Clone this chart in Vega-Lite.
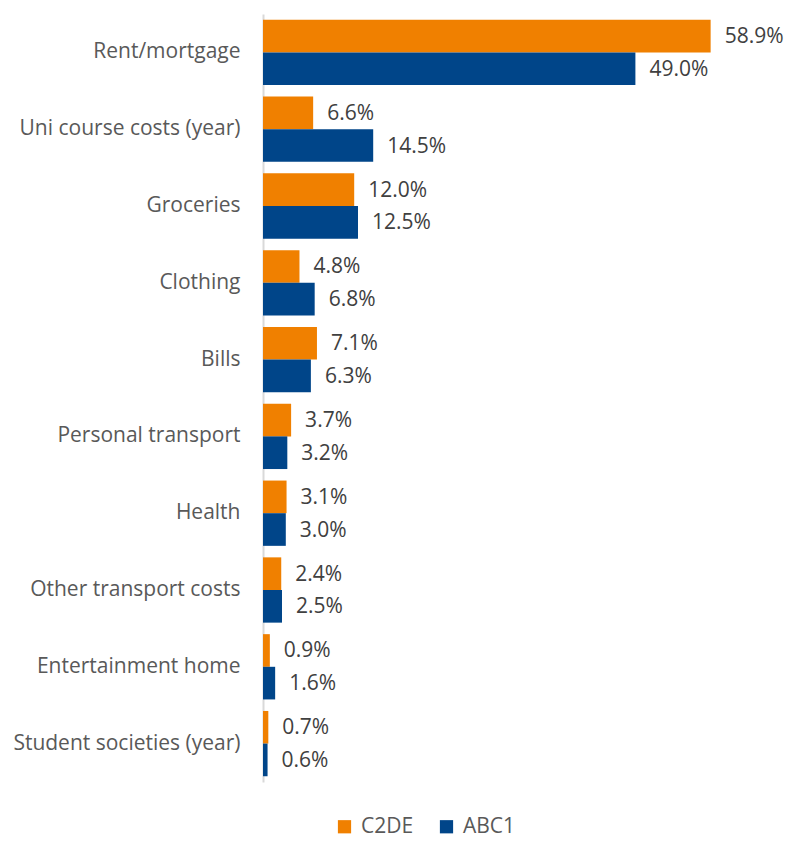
{
  "$schema": "https://vega.github.io/schema/vega-lite/v6.json",
  "autosize": "none",
  "width": 456,
  "height": 768,
  "padding": {"left": 263, "top": 14, "right": 71, "bottom": 59},
  "background": "white",
  "config": {
    "view": {"stroke": null},
    "font": "Open Sans"
  },
  "data": {
    "values": [
      {"category": "Rent/mortgage", "group": "C2DE", "value": 58.9},
      {"category": "Rent/mortgage", "group": "ABC1", "value": 49.0},
      {"category": "Uni course costs (year)", "group": "C2DE", "value": 6.6},
      {"category": "Uni course costs (year)", "group": "ABC1", "value": 14.5},
      {"category": "Groceries", "group": "C2DE", "value": 12.0},
      {"category": "Groceries", "group": "ABC1", "value": 12.5},
      {"category": "Clothing", "group": "C2DE", "value": 4.8},
      {"category": "Clothing", "group": "ABC1", "value": 6.8},
      {"category": "Bills", "group": "C2DE", "value": 7.1},
      {"category": "Bills", "group": "ABC1", "value": 6.3},
      {"category": "Personal transport", "group": "C2DE", "value": 3.7},
      {"category": "Personal transport", "group": "ABC1", "value": 3.2},
      {"category": "Health", "group": "C2DE", "value": 3.1},
      {"category": "Health", "group": "ABC1", "value": 3.0},
      {"category": "Other transport costs", "group": "C2DE", "value": 2.4},
      {"category": "Other transport costs", "group": "ABC1", "value": 2.5},
      {"category": "Entertainment home", "group": "C2DE", "value": 0.9},
      {"category": "Entertainment home", "group": "ABC1", "value": 1.6},
      {"category": "Student societies (year)", "group": "C2DE", "value": 0.7},
      {"category": "Student societies (year)", "group": "ABC1", "value": 0.6}
    ]
  },
  "encoding": {
    "y": {
      "field": "category",
      "type": "nominal",
      "sort": null,
      "scale": {"paddingInner": 0.15, "paddingOuter": 0.075},
      "axis": {
        "title": null,
        "ticks": false,
        "domain": true,
        "domainColor": "#D9D9D9",
        "domainWidth": 2,
        "labelFontSize": 21,
        "labelColor": "#595959",
        "labelPadding": 23,
        "labelFont": "Open Sans",
        "labelLimit": 300
      }
    },
    "yOffset": {"field": "group", "type": "nominal", "sort": ["C2DE", "ABC1"]},
    "x": {
      "field": "value",
      "type": "quantitative",
      "scale": {"domain": [0, 60], "nice": false},
      "axis": null
    }
  },
  "layer": [
    {
      "mark": {"type": "bar", "cornerRadius": 0},
      "encoding": {
        "color": {
          "field": "group",
          "type": "nominal",
          "sort": ["C2DE", "ABC1"],
          "scale": {"domain": ["C2DE", "ABC1"], "range": ["#F08000", "#004589"]},
          "legend": {
            "title": null,
            "orient": "none",
            "direction": "horizontal",
            "legendX": 71,
            "legendY": 802,
            "symbolType": "square",
            "symbolSize": 175,
            "symbolStrokeWidth": 0,
            "symbolOpacity": 1,
            "labelFontSize": 21,
            "labelColor": "#595959",
            "labelFont": "Open Sans",
            "columnPadding": 22,
            "labelOffset": 6
          }
        }
      }
    },
    {
      "transform": [{"calculate": "format(datum.value, '.1f') + '%'", "as": "label"}],
      "mark": {"type": "text", "align": "left", "baseline": "middle", "dx": 14, "dy": 1, "fontSize": 21, "color": "#404040", "font": "Open Sans"},
      "encoding": {
        "text": {"field": "label", "type": "nominal"}
      }
    }
  ]
}
